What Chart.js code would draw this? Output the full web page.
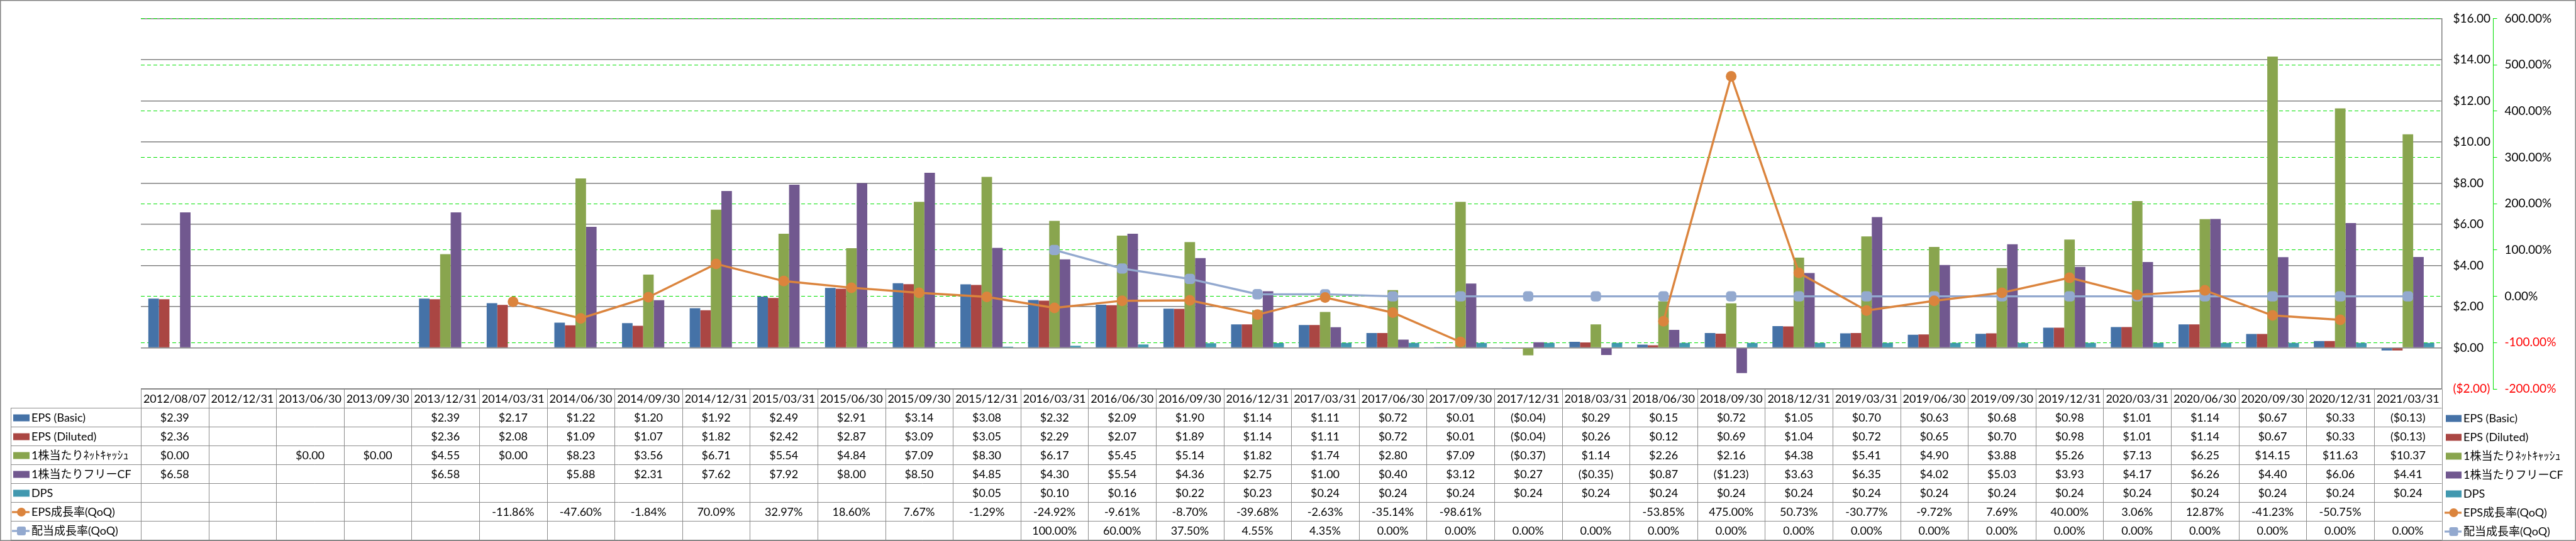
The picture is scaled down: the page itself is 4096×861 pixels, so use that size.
<!DOCTYPE html>
<html>
<head>
<meta charset="utf-8">
<script src="https://cdn.jsdelivr.net/npm/chart.js@4.4.1/dist/chart.umd.min.js"></script>
<style>
  html, body { margin: 0; padding: 0; background: #fff; overflow: hidden; }
  canvas { display: block; }
</style>
</head>
<body>
<canvas id="c" width="4096" height="861"></canvas>
<script>
// ---- datos ----
const categories = [
  '2012/08/07', '2012/12/31', '2013/06/30', '2013/09/30', '2013/12/31',
  '2014/03/31', '2014/06/30', '2014/09/30', '2014/12/31',
  '2015/03/31', '2015/06/30', '2015/09/30', '2015/12/31',
  '2016/03/31', '2016/06/30', '2016/09/30', '2016/12/31',
  '2017/03/31', '2017/06/30', '2017/09/30', '2017/12/31',
  '2018/03/31', '2018/06/30', '2018/09/30', '2018/12/31',
  '2019/03/31', '2019/06/30', '2019/09/30', '2019/12/31',
  '2020/03/31', '2020/06/30', '2020/09/30', '2020/12/31',
  '2021/03/31'
];
const epsBasic = [2.39, null, null, null, 2.39, 2.17, 1.22, 1.20, 1.92, 2.49, 2.91, 3.14, 3.08,
  2.32, 2.09, 1.90, 1.14, 1.11, 0.72, 0.01, -0.04, 0.29, 0.15, 0.72, 1.05, 0.70, 0.63, 0.68, 0.98,
  1.01, 1.14, 0.67, 0.33, -0.13];
const epsDiluted = [2.36, null, null, null, 2.36, 2.08, 1.09, 1.07, 1.82, 2.42, 2.87, 3.09, 3.05,
  2.29, 2.07, 1.89, 1.14, 1.11, 0.72, 0.01, -0.04, 0.26, 0.12, 0.69, 1.04, 0.72, 0.65, 0.70, 0.98,
  1.01, 1.14, 0.67, 0.33, -0.13];
const netCash = [0.00, null, 0.00, 0.00, 4.55, 0.00, 8.23, 3.56, 6.71, 5.54, 4.84, 7.09, 8.30,
  6.17, 5.45, 5.14, 1.82, 1.74, 2.80, 7.09, -0.37, 1.14, 2.26, 2.16, 4.38, 5.41, 4.90, 3.88, 5.26,
  7.13, 6.25, 14.15, 11.63, 10.37];
const freeCf = [6.58, null, null, null, 6.58, null, 5.88, 2.31, 7.62, 7.92, 8.00, 8.50, 4.85,
  4.30, 5.54, 4.36, 2.75, 1.00, 0.40, 3.12, 0.27, -0.35, 0.87, -1.23, 3.63, 6.35, 4.02, 5.03, 3.93,
  4.17, 6.26, 4.40, 6.06, 4.41];
const dps = [null, null, null, null, null, null, null, null, null, null, null, null, 0.05,
  0.10, 0.16, 0.22, 0.23, 0.24, 0.24, 0.24, 0.24, 0.24, 0.24, 0.24, 0.24, 0.24, 0.24, 0.24, 0.24,
  0.24, 0.24, 0.24, 0.24, 0.24];
const epsGrowth = [null, null, null, null, null, -11.86, -47.60, -1.84, 70.09, 32.97, 18.60, 7.67, -1.29,
  -24.92, -9.61, -8.70, -39.68, -2.63, -35.14, -98.61, null, null, -53.85, 475.00, 50.73, -30.77, -9.72,
  7.69, 40.00, 3.06, 12.87, -41.23, -50.75, null];
const divGrowth = [null, null, null, null, null, null, null, null, null, null, null, null, null,
  100.00, 60.00, 37.50, 4.55, 4.35, 0.00, 0.00, 0.00, 0.00, 0.00, 0.00, 0.00, 0.00, 0.00, 0.00, 0.00,
  0.00, 0.00, 0.00, 0.00, 0.00];
const dollarTicks = [-2, 0, 2, 4, 6, 8, 10, 12, 14, 16];
const pctTicks = [-200, -100, 0, 100, 200, 300, 400, 500, 600];

const FONT = 'Lato, "Noto Sans CJK JP", "Noto Sans", sans-serif';
const FS = 19;       // ejes
const FS_TABLE = 18; // tabla y leyenda
const GRID_GRAY = '#808080';
const GREEN = '#00E000';

const fmtUsd = v => v < 0 ? '($' + Math.abs(v).toFixed(2) + ')' : '$' + v.toFixed(2);
const fmtPct = v => v.toFixed(2) + '%';

// filas de la tabla / leyenda
const rows = [
  { label: 'EPS (Basic)', data: epsBasic, color: '#4572A7', kind: 'bar', fmt: fmtUsd },
  { label: 'EPS (Diluted)', data: epsDiluted, color: '#AA4643', kind: 'bar', fmt: fmtUsd },
  { label: '1株当たりﾈｯﾄｷｬｯｼｭ', data: netCash, color: '#89A54E', kind: 'bar', fmt: fmtUsd },
  { label: '1株当たりフリーCF', data: freeCf, color: '#71588F', kind: 'bar', fmt: fmtUsd },
  { label: 'DPS', data: dps, color: '#4198AF', kind: 'bar', fmt: fmtUsd },
  { label: 'EPS成長率(QoQ)', data: epsGrowth, color: '#DB843D', kind: 'line', marker: 'circle', fmt: fmtPct },
  { label: '配当成長率(QoQ)', data: divGrowth, color: '#93A9CF', kind: 'line', marker: 'rect', fmt: fmtPct }
];

function drawMarker(ctx, r, cx, cy) {
  ctx.fillStyle = r.color;
  if (r.marker === 'circle') {
    ctx.beginPath(); ctx.arc(cx, cy, 7, 0, Math.PI * 2); ctx.fill();
  } else {
    ctx.beginPath();
    if (ctx.roundRect) ctx.roundRect(cx - 7, cy - 7, 14, 14, 3); else ctx.rect(cx - 7, cy - 7, 14, 14);
    ctx.fill();
  }
}

function drawSwatch(ctx, r, x0, x1, cy) {
  if (r.kind === 'bar') {
    ctx.fillStyle = r.color;
    ctx.fillRect(x0, cy - 5.5, x1 - x0, 11);
  } else {
    ctx.strokeStyle = r.color; ctx.lineWidth = 3.2;
    ctx.beginPath(); ctx.moveTo(x0 - 2, cy); ctx.lineTo(x1, cy); ctx.stroke();
    drawMarker(ctx, r, (x0 + x1) / 2, cy);
  }
}

// tabla de datos + leyenda derecha + borde exterior
const tablePlugin = {
  id: 'dataTable',
  afterDraw(chart) {
    const ctx = chart.ctx, xs = chart.scales.x, area = chart.chartArea;
    const n = categories.length;
    const colW = (area.right - area.left) / n;
    const top = area.bottom;
    const rowH = 30;
    const labelLeft = 17;
    const nr = rows.length + 1;
    const hy = k => Math.round(top + k * rowH) + 0.5;

    ctx.save();
    ctx.strokeStyle = '#8C8C8C';
    ctx.lineWidth = 1;
    ctx.beginPath();
    ctx.moveTo(area.left, hy(0)); ctx.lineTo(area.right, hy(0));
    for (let k = 1; k <= nr; k++) { ctx.moveTo(labelLeft, hy(k)); ctx.lineTo(area.right, hy(k)); }
    for (let i = 0; i <= n; i++) {
      const vx = Math.round(area.left + i * colW) + 0.5;
      ctx.moveTo(vx, hy(0)); ctx.lineTo(vx, hy(nr));
    }
    ctx.moveTo(labelLeft + 0.5, hy(1)); ctx.lineTo(labelLeft + 0.5, hy(nr));
    ctx.stroke();

    ctx.font = FS_TABLE + 'px ' + FONT;
    ctx.fillStyle = '#000';
    ctx.textAlign = 'center';
    ctx.textBaseline = 'middle';
    categories.forEach((c, i) => ctx.fillText(c, xs.getPixelForValue(i), top + rowH / 2 + 1));

    rows.forEach((r, k) => {
      const cy = top + (k + 1.5) * rowH + 1;
      ctx.fillStyle = '#000';
      ctx.textAlign = 'center';
      r.data.forEach((v, i) => {
        if (v === null) return;
        ctx.fillText(r.fmt(v), xs.getPixelForValue(i), cy);
      });
      // etiqueta de fila
      ctx.save();
      ctx.beginPath();
      ctx.rect(labelLeft, top + (k + 1) * rowH, area.left - labelLeft, rowH);
      ctx.clip();
      drawSwatch(ctx, r, 21, 47, cy);
      ctx.fillStyle = '#000';
      ctx.textAlign = 'left';
      ctx.fillText(r.label, 50, cy);
      ctx.restore();
      // leyenda a la derecha
      drawSwatch(ctx, r, 3889, 3914, cy + 1);
      ctx.fillStyle = '#000';
      ctx.textAlign = 'left';
      ctx.fillText(r.label, 3917, cy + 1);
    });

    ctx.strokeStyle = '#868686';
    ctx.lineWidth = 1.5;
    ctx.strokeRect(0.75, 0.75, chart.width - 1.5, chart.height - 1.5);
    ctx.restore();
  }
};

const barSets = rows.filter(r => r.kind === 'bar').map(r => ({
  type: 'bar',
  label: r.label,
  data: r.data,
  backgroundColor: r.color,
  borderWidth: 0,
  yAxisID: 'y',
  order: 2,
  categoryPercentage: 0.78,
  barPercentage: 1.0
}));
const lineSets = rows.filter(r => r.kind === 'line').map(r => ({
  type: 'line',
  label: r.label,
  data: r.data,
  borderColor: r.color,
  backgroundColor: r.color,
  borderWidth: 3.4,
  pointStyle: r.marker === 'circle' ? 'circle' : 'rectRounded',
  pointRadius: r.marker === 'circle' ? 8.5 : 9.5,
  pointBorderWidth: 0,
  spanGaps: false,
  tension: 0,
  yAxisID: 'y1',
  order: 1
}));

Chart.defaults.font.family = FONT;
Chart.defaults.font.size = FS;
Chart.defaults.color = '#000';

new Chart(document.getElementById('c'), {
  type: 'bar',
  data: { labels: categories, datasets: barSets.concat(lineSets) },
  options: {
    responsive: false,
    animation: false,
    devicePixelRatio: 1,
    layout: { padding: { left: 224, top: 12, right: 0, bottom: 242 } },
    plugins: { legend: { display: false }, tooltip: { enabled: false } },
    scales: {
      x: { display: false, offset: true },
      y: {
        position: 'right',
        min: -2, max: 16,
        afterBuildTicks: s => { s.ticks = dollarTicks.map(v => ({ value: v })); },
        afterFit: s => { s.width = 82; },
        grid: { color: GRID_GRAY, lineWidth: 1.5, drawTicks: false },
        border: { display: true, color: GRID_GRAY, width: 1.5 },
        ticks: {
          padding: 18,
          callback: v => fmtUsd(v),
          color: c => (c.tick && c.tick.value < 0) ? '#FF0000' : '#000'
        }
      },
      y1: {
        position: 'right',
        min: -200, max: 600,
        afterBuildTicks: s => { s.ticks = pctTicks.map(v => ({ value: v })); },
        afterFit: s => { s.width = 4096 - 3964.5; },
        grid: {
          color: GREEN, lineWidth: 1, borderDash: [6, 4],
          drawTicks: true, tickLength: 6, tickBorderDash: [], tickColor: GREEN
        },
        border: { display: true, color: GREEN, width: 1, dash: [6, 4] },
        ticks: {
          padding: 12,
          callback: v => fmtPct(v),
          color: c => (c.tick && c.tick.value < 0) ? '#FF0000' : '#000'
        }
      }
    }
  },
  plugins: [tablePlugin]
});
</script>
</body>
</html>
